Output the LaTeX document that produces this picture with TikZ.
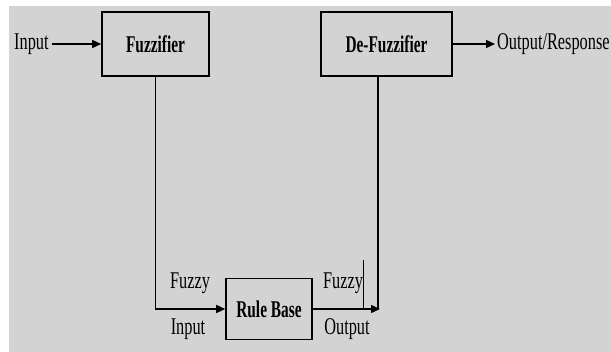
\documentclass[tikz,border=0pt]{standalone}
\usepackage{fontspec}
\setmainfont{Liberation Serif}
\usepackage{tikz}
\usetikzlibrary{arrows.meta}
\newcommand\squeeze[1]{\scalebox{0.68}[1]{#1}}
\newcommand\squeezebf[1]{\scalebox{0.64}[1]{\bfseries #1}}

\begin{document}
\begin{tikzpicture}[x=1pt,y=-1pt,
      every node/.style={font=\fontsize{24}{26}\selectfont,inner sep=0pt},
      block/.style={draw,line width=1.6pt},
      flow/.style={line width=1.4pt,-{Triangle[length=9pt,width=8pt]}}]
    \useasboundingbox (0,0) rectangle (611,352);
    \fill[fill={rgb,255:red,211;green,211;blue,211}] (9,6) rectangle (611,352);
    % blocks
    \node[block,minimum width=107pt,minimum height=64pt] (fuzz) at (155.5,44) {\squeezebf{Fuzzifier}};
    \node[block,minimum width=131pt,minimum height=64pt] (defuzz) at (386.5,44) {\squeezebf{De-Fuzzifier}};
    \node[block,minimum width=86pt,minimum height=61pt] (rules) at (269,309) {\squeezebf{Rule Base}};
    % outside texts
    \node[anchor=west,inner xsep=3pt] (inp) at (11,44) {\squeeze{Input}};
    \node[anchor=west,inner xsep=2pt] (resp) at (495,44) {\squeeze{Output/Response}};
    \node (fin) at (190,283) {\squeeze{Fuzzy}};
    \node (fin2) at (188,329) {\squeeze{Input}};
    \node (fout) at (343,283) {\squeeze{Fuzzy}};
    \node (fout2) at (347,329) {\squeeze{Output}};
    \coordinate (join) at (380,309);
    % connectors
    \draw[flow] (inp) -- (fuzz);
    \draw[flow] (defuzz) -- (resp);
    \draw[flow] (fuzz.south) |- (rules.west);
    \draw[flow] (rules.east) -- (join);
    \draw[line width=1.4pt] (defuzz.south -| 378,0) -- (378,309);
    \draw[line width=0.8pt] (363,260) -- (363,309);
  \end{tikzpicture}
\end{document}
